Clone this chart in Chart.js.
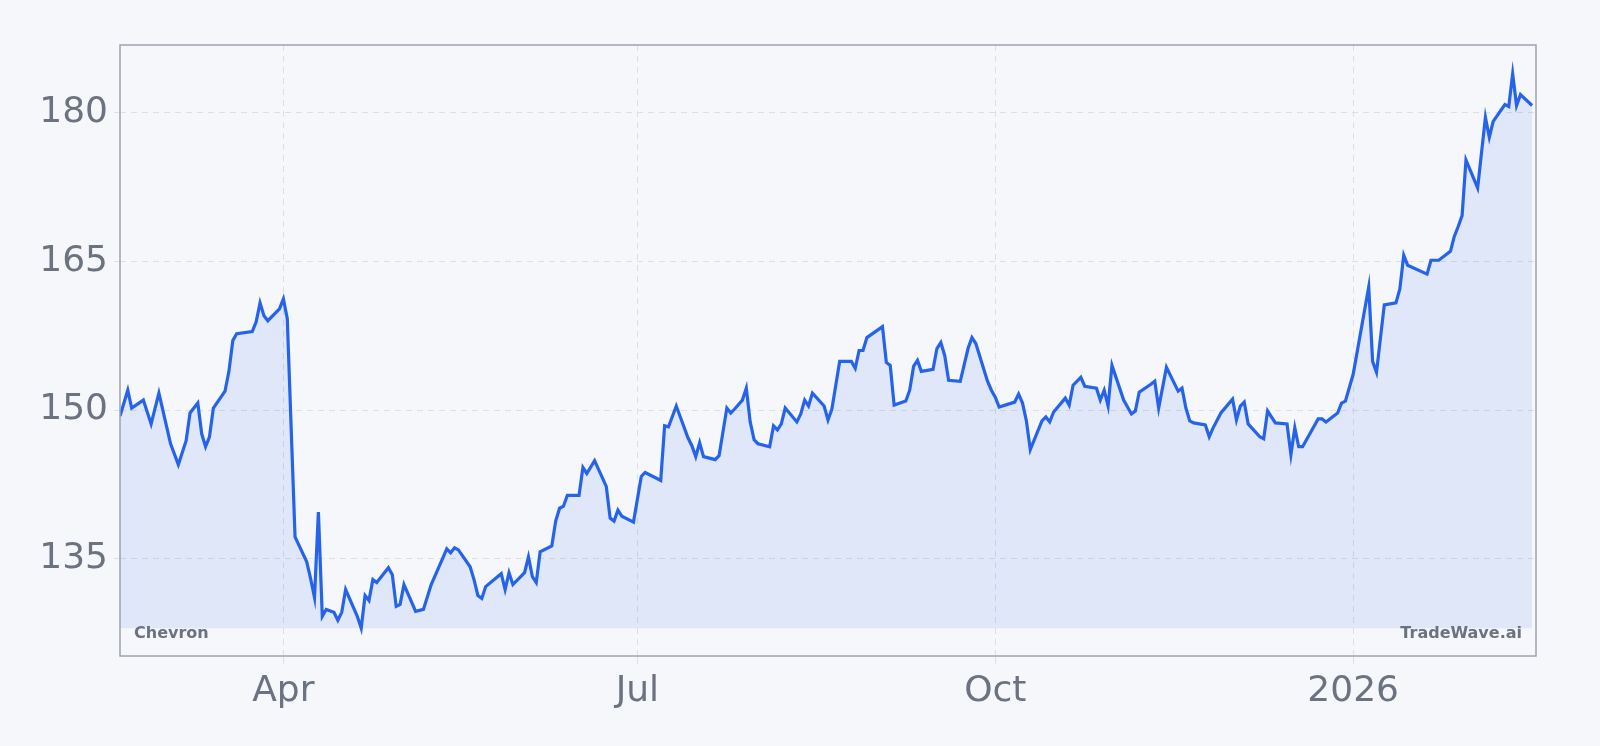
<!DOCTYPE html>
<html><head><meta charset="utf-8">
<script src="https://cdn.jsdelivr.net/npm/chart.js@4/dist/chart.umd.min.js"></script>
<style>html,body{margin:0;padding:0;background:#f5f7fa}#wrap{width:1600px;height:746px}</style>
</head><body><div id="wrap"><canvas id="c" width="1600" height="746"></canvas></div>
<script>
// day offsets from 2025-02-18
const days = [0,2,3,6,8,10,13,15,17,18,20,21,22,23,24,27,28,29,30,34,35,36,37,38,41,42,43,45,48,49,50,51,52,53,55,56,57,58,61,62,63,64,65,66,69,70,71,72,73,76,78,80,83,84,85,86,87,90,91,92,93,94,98,99,100,101,104,105,106,107,108,111,112,113,114,115,118,119,120,122,125,126,127,128,129,132,134,135,139,140,141,143,146,147,148,149,150,153,154,156,157,158,160,161,162,163,164,167,168,169,170,171,174,175,176,177,178,181,182,183,185,188,189,190,191,192,196,197,198,199,202,203,204,205,206,209,210,211,212,213,216,218,219,220,223,224,225,226,230,231,232,233,234,237,238,239,240,243,244,245,247,248,251,252,253,254,255,258,260,261,262,265,266,267,269,272,273,274,275,276,279,280,281,283,286,287,288,289,290,293,294,295,297,300,301,302,303,304,308,309,310,313,314,315,317,321,322,323,325,328,329,330,331,336,337,339,342,343,344,345,346,349,351,352,353,356,357,358,359,360,363];
const prices = [149.4,152.0,150.2,151.0,148.6,151.7,146.6,144.5,146.9,149.7,150.7,147.6,146.3,147.3,150.2,151.9,153.9,157.0,157.7,157.9,158.9,160.8,159.5,159.0,160.2,161.2,159.2,137.2,134.7,133.0,131.1,139.7,129.2,129.9,129.6,128.8,129.6,131.9,129.2,128.0,131.3,130.8,132.9,132.6,134.1,133.4,130.2,130.4,132.4,129.7,129.9,132.4,135.1,136.0,135.6,136.1,135.9,134.2,132.9,131.3,131.0,132.2,133.5,131.9,133.6,132.4,133.6,135.2,133.2,132.6,135.7,136.3,138.8,140.1,140.3,141.4,141.4,144.2,143.6,144.9,142.3,139.1,138.8,139.9,139.3,138.7,143.3,143.7,142.9,148.4,148.3,150.4,147.2,146.4,145.3,146.7,145.3,145.0,145.4,150.2,149.7,150.1,151.0,152.2,148.8,147.0,146.6,146.3,148.4,148.0,148.6,150.2,148.8,149.6,151.0,150.4,151.7,150.4,149.0,150.1,154.9,154.9,154.2,156.0,156.0,157.3,158.4,154.8,154.5,150.5,150.9,152.0,154.4,155.0,153.9,154.1,156.2,156.8,155.5,153.0,152.9,156.2,157.3,156.7,152.9,152.0,151.3,150.3,150.8,151.6,150.7,148.9,146.0,148.9,149.3,148.8,149.8,151.2,150.5,152.5,153.3,152.4,152.2,151.0,152.0,150.4,154.5,151.0,149.6,149.9,151.8,152.6,152.9,150.2,154.3,151.9,152.2,150.2,148.9,148.7,148.5,147.3,148.2,149.7,151.1,149.0,150.4,150.8,148.6,147.3,147.1,149.9,148.7,148.6,145.5,148.2,146.3,146.3,149.1,149.1,148.8,149.7,150.7,150.9,153.6,162.4,154.9,153.8,160.6,160.8,162.2,165.6,164.6,163.7,165.1,165.1,166.0,167.5,168.5,169.6,175.2,172.4,179.5,177.5,179.1,180.8,180.6,183.9,180.7,181.8,180.7];
const xTickDays = [42,133,225,317];
const xTickLabels = ['Apr','Jul','Oct','2026'];
const yTicks = [135,150,165,180];
const yMin = 125.2, yMax = 186.8;

const pts = days.map((d,i)=>({x:d,y:prices[i]}));
const grey = '#6b7280';
const overlay = {
  id:'overlay',
  afterDraw(ch){
    const {ctx,chartArea:a}=ch;
    ctx.save();
    ctx.strokeStyle='#9ca3af';ctx.lineWidth=1.5;
    ctx.strokeRect(a.left,a.top,a.right-a.left,a.bottom-a.top);
    ctx.fillStyle=grey;ctx.font='bold 16px "DejaVu Sans", sans-serif';
    ctx.textBaseline='middle';
    ctx.textAlign='left';ctx.fillText('Chevron',a.left+14,a.bottom-22);
    ctx.textAlign='right';ctx.fillText('TradeWave.ai',a.right-14,a.bottom-22);
    ctx.restore();
  }
};
new Chart(document.getElementById('c'),{
  type:'line',
  data:{datasets:[{data:pts,borderColor:'#2563eb',borderWidth:3.2,pointRadius:0,tension:0,
    fill:{value:Math.min(...prices)},backgroundColor:'rgba(37,99,235,0.10)'}]},
  options:{
    responsive:false,animation:false,
    layout:{padding:{left:0,right:64,top:45,bottom:0}},
    plugins:{legend:{display:false},tooltip:{enabled:false}},
    scales:{
      x:{type:'linear',min:0,max:364,
        afterBuildTicks(s){s.ticks=xTickDays.map(v=>({value:v}));},
        afterFit(s){s.height=90;},
        ticks:{callback:(v)=>xTickLabels[xTickDays.indexOf(v)],color:grey,font:{size:36,family:'"DejaVu Sans", sans-serif'},padding:6,maxRotation:0},
        grid:{color:'#dcdfe4',borderDash:[6,5],tickLength:8,drawTicks:true},
        border:{display:false,dash:[6,5]}},
      y:{min:yMin,max:yMax,
        afterBuildTicks(s){s.ticks=yTicks.map(v=>({value:v}));},
        afterFit(s){s.width=120;},
        ticks:{color:grey,font:{size:36,family:'"DejaVu Sans", sans-serif'},padding:6},
        grid:{color:'#dcdfe4',tickLength:6},
        border:{display:false,dash:[6,5]}}
    }
  },
  plugins:[overlay]
});
</script></body></html>
